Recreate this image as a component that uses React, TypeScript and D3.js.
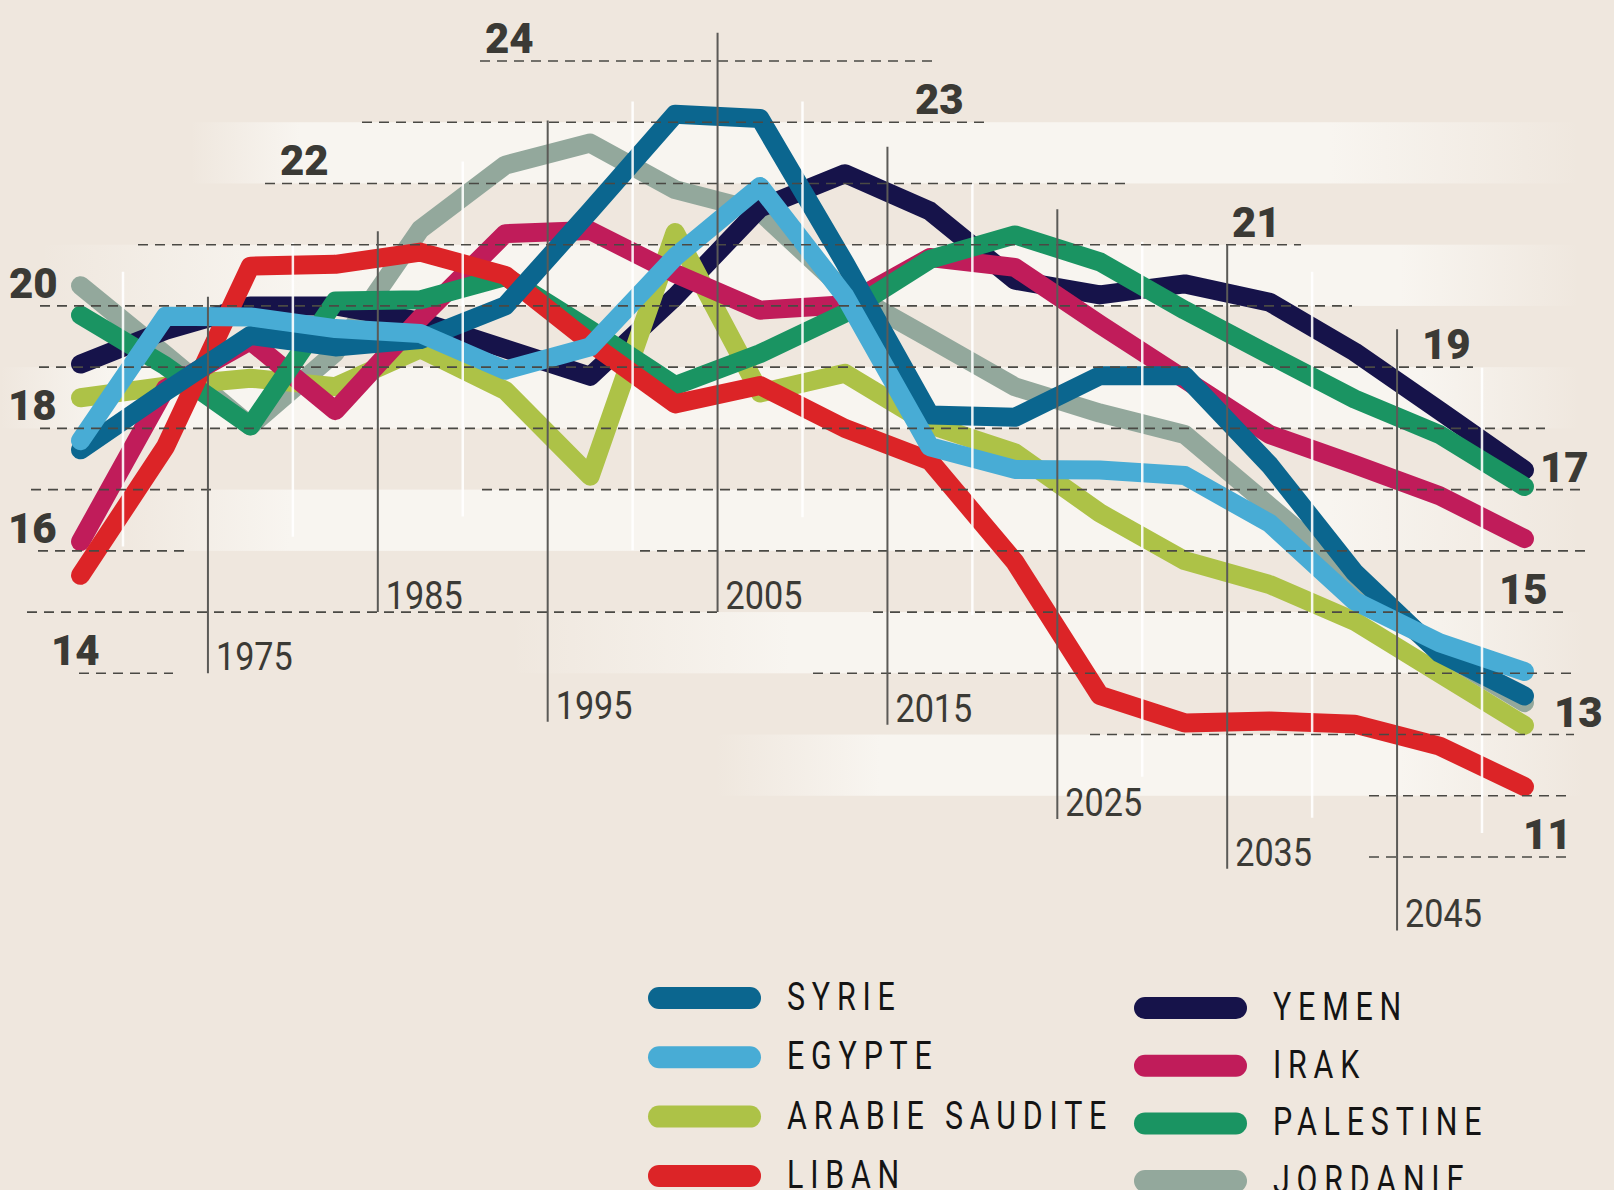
import React from 'react';
import * as d3 from 'd3';

const WIDTH = 1614;
const HEIGHT = 1190;

// centre of each five-year period
const periods = [
  1967.5, 1972.5, 1977.5, 1982.5, 1987.5, 1992.5, 1997.5, 2002.5, 2007.5,
  2012.5, 2017.5, 2022.5, 2027.5, 2032.5, 2037.5, 2042.5, 2047.5, 2052.5,
];

const syrie = [17.65, 18.6, 19.52, 19.33, 19.45, 20.0, 21.55, 23.13, 23.06, 20.7, 18.22, 18.18, 18.86, 18.86, 17.4, 15.65, 14.33, 13.63];
const egypte = [17.8, 19.83, 19.82, 19.63, 19.55, 18.95, 19.33, 20.8, 21.95, 20.16, 17.7, 17.33, 17.32, 17.23, 16.45, 15.18, 14.5, 14.03];
const arabie = [18.5, 18.69, 18.82, 18.68, 19.3, 18.62, 17.22, 21.2, 18.58, 18.9, 18.06, 17.6, 16.62, 15.84, 15.45, 14.85, 14.0, 13.15];
const liban = [15.6, 17.7, 20.65, 20.68, 20.88, 20.5, 19.4, 18.4, 18.7, 18.0, 17.47, 15.82, 13.64, 13.19, 13.22, 13.17, 12.81, 12.15];
const yemen = [19.05, 19.6, 20.0, 20.0, 19.75, 19.3, 18.85, 20.15, 21.6, 22.16, 21.55, 20.42, 20.18, 20.36, 20.06, 19.25, 18.29, 17.32];
const irak = [16.15, 18.65, 19.43, 18.29, 19.8, 21.18, 21.23, 20.53, 19.93, 20.02, 20.79, 20.63, 19.7, 18.8, 17.9, 17.41, 16.9, 16.2];
const palestine = [19.85, 19.02, 18.04, 20.08, 20.1, 20.48, 19.61, 18.7, 19.22, 19.88, 20.76, 21.16, 20.72, 19.93, 19.2, 18.48, 17.9, 17.05];
const jordanie = [20.33, 19.2, 18.04, 19.24, 21.25, 22.3, 22.66, 21.9, 21.54, 20.25, 19.47, 18.68, 18.25, 17.9, 16.73, 15.55, 14.35, 13.52];

const countries = ['SYRIE', 'EGYPTE', 'ARABIE SAUDITE', 'LIBAN', 'YEMEN', 'IRAK', 'PALESTINE', 'JORDANIE'];
const seriesValues = [syrie, egypte, arabie, liban, yemen, irak, palestine, jordanie];
const colors = ['#0b668f', '#48acd5', '#adc247', '#dc2427', '#16134a', '#c01c5a', '#1a9462', '#93a89c'];

// bottom to top
const drawOrder = ['JORDANIE', 'YEMEN', 'ARABIE SAUDITE', 'IRAK', 'PALESTINE', 'LIBAN', 'SYRIE', 'EGYPTE'];

const yearTicks = [1975, 1985, 1995, 2005, 2015, 2025, 2035, 2045];
const yearGuides = [1970, 1980, 1990, 2000, 2010, 2020, 2030, 2040, 2050];
const valueLabels = [24, 23, 22, 21, 20, 19, 18, 17, 16, 15, 14, 13, 11];

// --- layout (not data) ---
// vertical extent of the year rules, in value units [top, bottom]
const tickSpans = [[20.15, 14.0], [21.22, 15.0], [23.03, 13.21], [24.46, 15.0], [22.6, 13.16], [21.58, 11.62], [21.0, 10.81], [19.62, 9.8]];
const guideSpans = [[20.56, 16.07], [21.03, 16.23], [22.36, 16.56], [23.34, 16.01], [23.34, 16.55], [21.99, 14.95], [21.05, 12.31], [20.56, 11.64], [18.99, 11.39]];
// dashed rules: value -> x segments
const dashRules: [number, [number, number][]][] = [
  [24, [[480, 932]]],
  [23, [[362, 988]]],
  [22, [[265, 1130]]],
  [21, [[138, 1301]]],
  [20, [[40, 1352]]],
  [19, [[39, 1473]]],
  [18, [[40, 1545]]],
  [17, [[31, 212], [482, 1582]]],
  [16, [[38, 191], [640, 1587]]],
  [15, [[27, 720], [873, 1566]]],
  [14, [[79, 173], [813, 1571]]],
  [13, [[1090, 1574]]],
  [12, [[1369, 1572]]],
  [11, [[1369, 1572]]],
];
const labelX = [485, 915, 280, 1232, 9, 1422, 8, 1540, 8, 1499, 51, 1554, 1523];
const bands = [[23, 22], [21, 20], [19, 18], [17, 16], [15, 14], [13, 12]];
const bandFades = [
  [190, 300, 1330, 1580],
  [40, 300, 1400, 1580],
  [0, 110, 1420, 1580],
  [110, 290, 1330, 1580],
  [510, 790, 1400, 1585],
  [715, 880, 1400, 1585],
];

const INK = '#3b3a35';

export default function App() {
  const x = d3.scaleLinear().domain([1970, 2050]).range([123, 1482]);
  const y = d3.scaleLinear().domain([11, 24]).range([857, 61]);

  const line = d3
    .line<number>()
    .x((_, i) => x(periods[i]))
    .y((d) => y(d));

  const byName = (name: string) => countries.indexOf(name);

  return (
    <div style={{ position: 'absolute', left: 0, top: 0 }}>
      <svg width={WIDTH} height={HEIGHT} viewBox={`0 0 ${WIDTH} ${HEIGHT}`} style={{ display: 'block' }}>
        <defs>
          {bandFades.map((f, i) => (
            <linearGradient key={i} id={`band-${i}`} gradientUnits="userSpaceOnUse" x1={f[0]} x2={f[3]} y1={0} y2={0}>
              <stop offset={0} stopColor="#f8f5f0" stopOpacity={0} />
              <stop offset={(f[1] - f[0]) / (f[3] - f[0])} stopColor="#f8f5f0" stopOpacity={1} />
              <stop offset={(f[2] - f[0]) / (f[3] - f[0])} stopColor="#f8f5f0" stopOpacity={1} />
              <stop offset={1} stopColor="#f8f5f0" stopOpacity={0} />
            </linearGradient>
          ))}
        </defs>

        <rect width={WIDTH} height={HEIGHT} fill="#efe7de" />

        {/* light bands */}
        {bands.map(([top, bottom], i) => (
          <rect
            key={i}
            x={bandFades[i][0]}
            y={y(top)}
            width={bandFades[i][3] - bandFades[i][0]}
            height={y(bottom) - y(top)}
            fill={`url(#band-${i})`}
          />
        ))}

        {/* series */}
        <g fill="none" strokeLinecap="round" strokeLinejoin="round" strokeWidth={19}>
          {drawOrder.map((name) => {
            const i = byName(name);
            return <path key={name} d={line(seriesValues[i]) || ''} stroke={colors[i]} />;
          })}
        </g>

        {/* white guides */}
        <g stroke="#ffffff" strokeWidth={2.5} strokeOpacity={0.9}>
          {yearGuides.map((yr, i) => (
            <line key={yr} x1={x(yr)} x2={x(yr)} y1={y(guideSpans[i][0])} y2={y(guideSpans[i][1])} />
          ))}
        </g>

        {/* dashed rules */}
        <g stroke="#4a4944" strokeWidth={1.6} strokeDasharray="10 7">
          {dashRules.map(([v, segs]) =>
            segs.map((s, j) => <line key={`${v}-${j}`} x1={s[0]} x2={s[1]} y1={y(v)} y2={y(v)} />)
          )}
        </g>

        {/* year rules + labels */}
        <g>
          {yearTicks.map((yr, i) => (
            <g key={yr}>
              <line x1={x(yr)} x2={x(yr)} y1={y(tickSpans[i][0])} y2={y(tickSpans[i][1])} stroke="#5b5a57" strokeWidth={2} />
              <text
                transform={`translate(${x(yr) + 8},${y(tickSpans[i][1]) - 3}) scale(0.9,1)`}
                fontFamily="Roboto, 'Open Sans', sans-serif"
                fontWeight={400}
                fontSize={38}
                fill={INK}
              >
                {yr}
              </text>
            </g>
          ))}
        </g>

        {/* value labels */}
        <g fontFamily="Roboto, 'DejaVu Sans', sans-serif" fontWeight={900} fontSize={42} fill={INK}>
          {valueLabels.map((v, i) => (
            <text key={v} x={labelX[i]} y={y(v) - 8}>
              {v}
            </text>
          ))}
        </g>

        {/* legend */}
        <g>
          {countries.map((name, i) => {
            const col = i < 4 ? 0 : 1;
            const row = i % 4;
            const cy = col === 0 ? 998 + row * 59.3 : 1008 + row * 57.7;
            const sx = col === 0 ? 648 : 1134;
            const tx = col === 0 ? 787 : 1273;
            return (
              <g key={name}>
                <rect x={sx} y={cy - 11} width={113} height={22} rx={11} fill={colors[i]} />
                <text
                  transform={`translate(${tx},${cy + 12}) scale(0.8,1)`}
                  fontFamily="Roboto, 'Open Sans', sans-serif"
                  fontWeight={400}
                  fontSize={38}
                  letterSpacing={8.5}
                  fill="#141414"
                >
                  {name}
                </text>
              </g>
            );
          })}
        </g>
      </svg>
    </div>
  );
}
